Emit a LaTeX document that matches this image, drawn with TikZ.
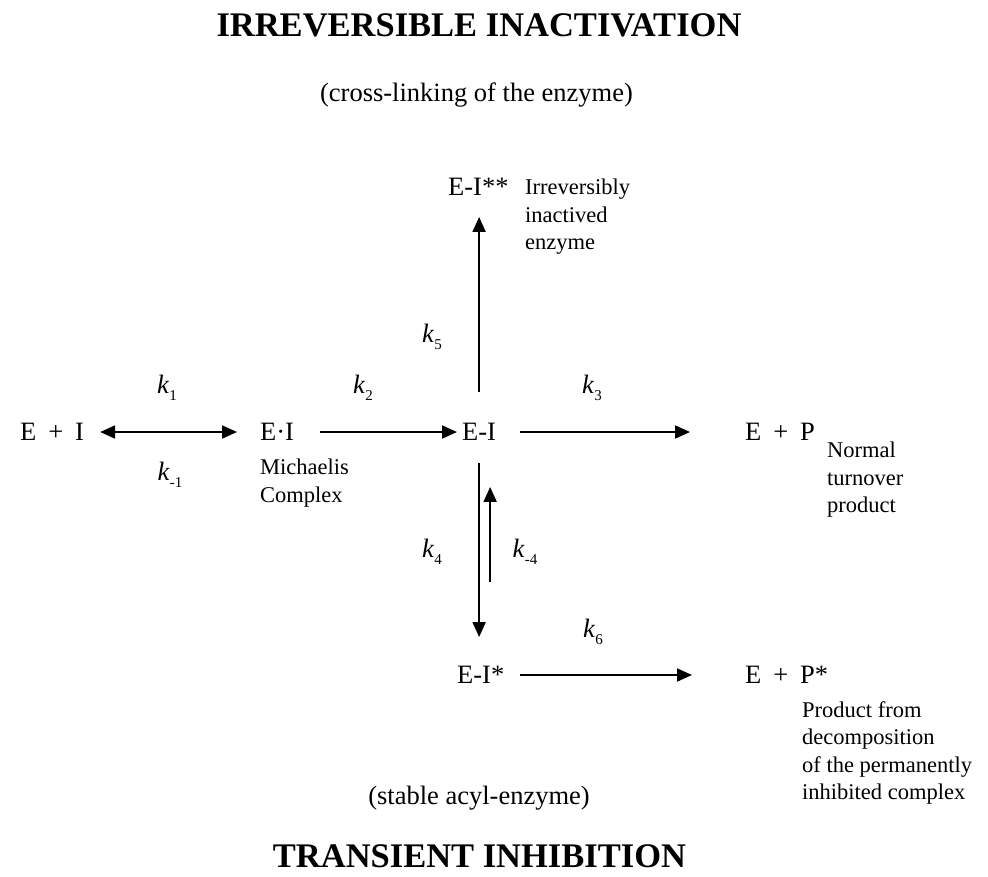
\documentclass[tikz,border=0pt]{standalone}
\usepackage{fontspec}
\setmainfont{Liberation Serif}
\usetikzlibrary{arrows.meta}
\newcommand\kk[1]{\textit{k}\raisebox{-0.28em}{\fontsize{15}{15}\selectfont #1}}
\newcommand\pl{\hspace{0.45em}+\hspace{0.45em}}
\begin{document}
\begin{tikzpicture}[x=1pt,y=-1pt,
  main/.style={font=\fontsize{26.5}{30}\selectfont, inner sep=0pt, text height=17.5pt, text depth=0pt},
  note/.style={font=\fontsize{22.5}{27.5}\selectfont, inner sep=0pt, align=left, anchor=north west},
  rate/.style={font=\fontsize{26.5}{30}\selectfont, inner sep=0pt},
  ttl/.style={font=\fontsize{34.5}{40}\selectfont\bfseries, inner sep=0pt},
  sub/.style={font=\fontsize{26.5}{30}\selectfont, inner sep=0pt},
  arr/.style={line width=2pt, -{Triangle[length=15pt,width=13pt]}},
  dbl/.style={line width=2pt, {Triangle[length=15pt,width=13pt]}-{Triangle[length=15pt,width=13pt]}}]
\useasboundingbox (0,0) rectangle (988,876);

\node[ttl] (t1) at (479,25) {IRREVERSIBLE INACTIVATION};
\node[sub] (s1) at (476.5,95) {(cross-linking of the enzyme)};

\node[main,anchor=west] (EpI) at (20,432) {E\pl I};
\node[main,anchor=west] (EdI) at (260,432) {E·I};
\node[main,anchor=west] (EI) at (462,432) {E-I};
\node[main,anchor=west] (EP) at (745,432) {E\pl P};
\node[main,anchor=west] (EIss) at (448,187) {E-I**};
\node[main,anchor=west] (EIs) at (457,675) {E-I*};
\node[main,anchor=west] (EPs) at (745,675) {E\pl P*};

\node[note] (n1) at (525,179) {Irreversibly\\inactived\\enzyme};
\node[note] (n2) at (260,459) {Michaelis\\Complex};
\node[note] (n3) at (827,442) {Normal\\turnover\\product};
\node[note] (n4) at (802,701) {Product from\\decomposition\\of the permanently\\inhibited complex};

\node[sub] (s2) at (479,798) {(stable acyl-enzyme)};
\node[ttl] (t2) at (479.5,856) {TRANSIENT INHIBITION};

\node[rate] (k1) at (167,388) {\kk{1}};
\node[rate] (km1) at (170,475) {\kk{-1}};
\node[rate] (k2) at (363,388) {\kk{2}};
\node[rate] (k3) at (592,388) {\kk{3}};
\node[rate] (k5) at (432,337) {\kk{5}};
\node[rate] (k4) at (432,552) {\kk{4}};
\node[rate] (km4) at (525,552) {\kk{-4}};
\node[rate] (k6) at (593,632) {\kk{6}};

\draw[dbl, shorten <=16pt, shorten >=23pt] (EpI.east) -- (EdI.west);
\draw[arr, shorten <=26pt, shorten >=5pt] (EdI.east) -- (EI.west);
\draw[arr, shorten <=24pt, shorten >=55pt] (EI.east) -- (EP.west);
\draw[arr, shorten <=31pt, shorten >=21pt] (EI.north) -- (EI.north |- EIss.south);
\draw[arr, shorten <=22pt, shorten >=29pt] (EI.south) -- (EI.south |- EIs.north);
\draw[arr, shorten <=84pt, shorten >=46pt] ([xshift=11pt]EI.south |- EIs.north) -- ([xshift=11pt]EI.south);
\draw[arr, shorten <=16pt, shorten >=53pt] (EIs.east) -- (EPs.west);
\end{tikzpicture}
\end{document}
